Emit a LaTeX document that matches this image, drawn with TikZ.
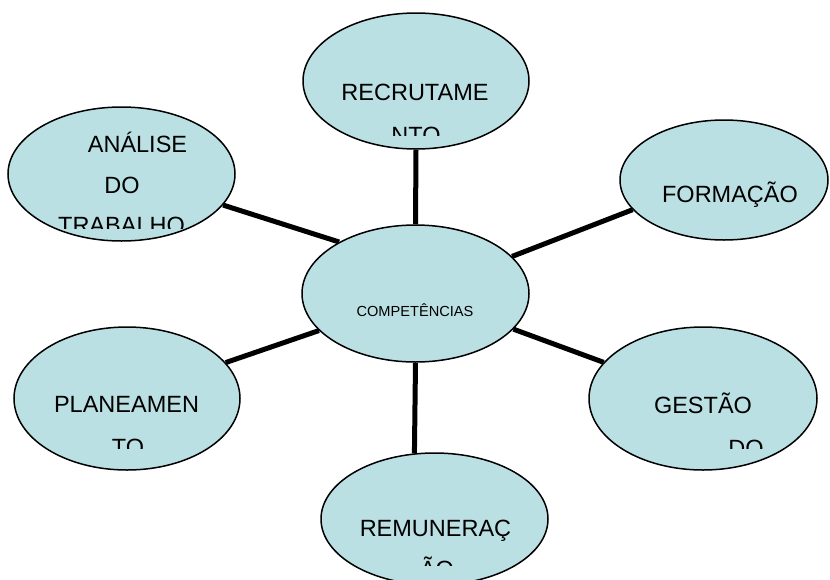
\documentclass[tikz,border=0pt]{standalone}
\usepackage{fontspec}
\setmainfont{Liberation Sans}
\usetikzlibrary{shapes.geometric,backgrounds}

\definecolor{bubblefill}{RGB}{187,224,227}

\tikzset{
    bubble/.style={ellipse, draw=black, line width=1.5pt, fill=bubblefill, inner sep=0pt},
    txt/.style={inner sep=0pt, anchor=base, font=\fontsize{23.5}{28}\selectfont},
    smalltxt/.style={inner sep=0pt, anchor=base, font=\fontsize{14.6}{17}\selectfont},
    link/.style={line width=5pt}
}

\begin{document}
\begin{tikzpicture}[x=1pt, y=-1pt]
    \useasboundingbox (0,0) rectangle (830,579);

    % the bubbles
    \node[bubble, minimum width=227pt, minimum height=137pt] (comp) at (415.5,293.5) {};
    \node[bubble, minimum width=226pt, minimum height=136pt] (rec) at (416,81) {};
    \node[bubble, minimum width=227pt, minimum height=134pt] (ana) at (121.5,174) {};
    \node[bubble, minimum width=208pt, minimum height=120pt] (form) at (724,180) {};
    \node[bubble, minimum width=228pt, minimum height=143pt] (ges) at (703,398.5) {};
    \node[bubble, minimum width=226pt, minimum height=143pt] (plan) at (127,398.5) {};
    \node[bubble, minimum width=227pt, minimum height=132pt] (rem) at (434.5,519) {};

    % the links
    \begin{scope}[on background layer]
        \draw[link] (rec.south) -- (comp.north);
        \draw[link] (ana.-17.5) -- (comp.146.7);
        \draw[link] (form.198.6) -- (comp.21.8);
        \draw[link] (ges.160) -- (comp.-20.5);
        \draw[link] (plan.20.4) -- (comp.-159.2);
        \draw[link] (rem.107) -- (comp.south);
    \end{scope}

    % the texts
    \node[smalltxt] (comp-t) at (415,316.7) {COMPETÊNCIAS};
    \node[txt] (rec-t) at (415,100.7) {RECRUTAME};
    \node[txt] (ana-t) at (137.5,152) {ANÁLISE};
    \node[txt] (ana-t2) at (122,193) {DO};
    \node[txt] (form-t) at (730,202.7) {FORMAÇÃO};
    \node[txt] (ges-t) at (703,413) {GESTÃO};
    \node[txt] (plan-t) at (126.5,412.7) {PLANEAMEN};
    \node[txt] (rem-t) at (435.5,536) {REMUNERAÇ};

    % cut off lines
    \begin{scope}
        \clip (303,110) rectangle (529,135);
        \node[txt] (rec-t2) at (416,143) {NTO};
    \end{scope}
    \begin{scope}
        \clip (8,200) rectangle (235,228);
        \node[txt] (ana-t3) at (121.5,233.5) {TRABALHO};
    \end{scope}
    \begin{scope}
        \clip (589,420) rectangle (817,448.3);
        \node[txt] (ges-t2) at (746,456) {DO};
    \end{scope}
    \begin{scope}
        \clip (14,420) rectangle (240,448.3);
        \node[txt] (plan-t2) at (128,455) {TO};
    \end{scope}
    \begin{scope}
        \clip (321,545) rectangle (548,565);
        \node[txt] (rem-t2) at (437,577) {ÃO};
    \end{scope}
\end{tikzpicture}
\end{document}
